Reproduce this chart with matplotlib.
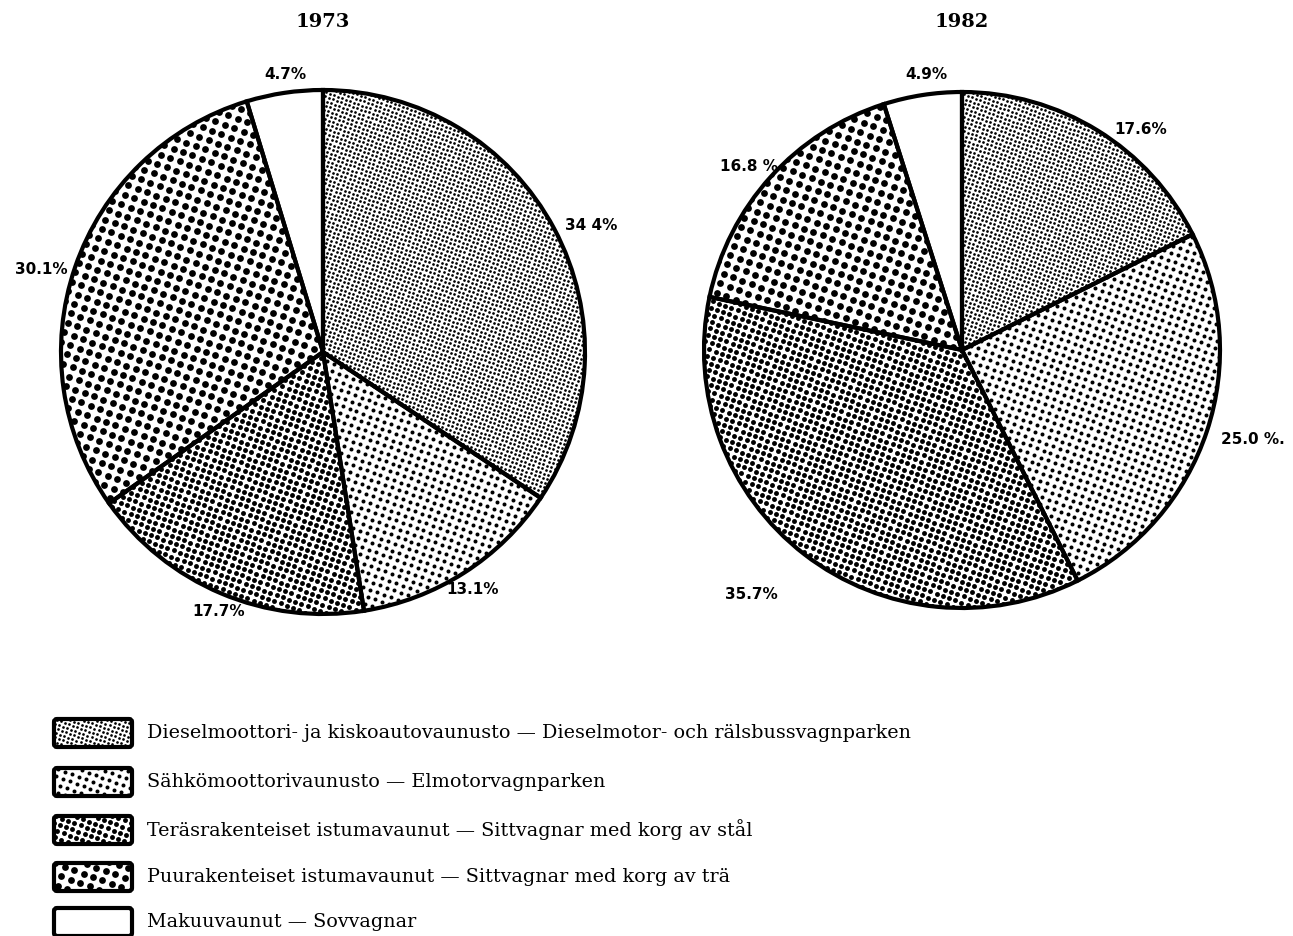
import numpy as np
import matplotlib
matplotlib.use('Agg')
import matplotlib.pyplot as plt
from matplotlib.patches import FancyBboxPatch

# data
categories = [
    'Dieselmoottori- ja kiskoautovaunusto \u2014 Dieselmotor- och rälsbussvagnparken',
    'Sähkömoottorivaunusto \u2014 Elmotorvagnparken',
    'Teräsrakenteiset istumavaunut \u2014 Sittvagnar med korg av stål',
    'Puurakenteiset istumavaunut \u2014 Sittvagnar med korg av trä',
    'Makuuvaunut \u2014 Sovvagnar',
]
years = ['1973', '1982']
shares_1973 = [34.4, 13.1, 17.7, 30.1, 4.7]
shares_1982 = [17.6, 25.0, 35.7, 16.8, 4.9]
labels_1973 = ['34 4%', '13.1%', '17.7%', '30.1%', '4.7%']
labels_1982 = ['17.6%', '25.0 %.', '35.7%', '16.8 %', '4.9%']

# dot screens: (spacing px, dot diameter px), None = plain white
screens = [(4.3, 2.7), (7.4, 4.0), (6.6, 4.9), (10.0, 6.8), None]
W, H = 1293, 936

# label placement (radius factor, angle tweak in deg)
place_1973 = [(1.13, -2.8), (1.07, -0.3), (1.07, 0.9), (1.12, 2.6), (1.07, -0.7)]
place_1982 = [(1.10, -7.3), (1.18, 1.2), (1.25, -3.2), (1.09, 1.3), (1.075, -1.5)]

fig = plt.figure(figsize=(W / 100, H / 100), dpi=100)


def dot_screen(ax, patch, screen, half_w, half_h, scale_x, scale_y, cx=0.0, cy=0.0):
    # rotated dot grid (in pixels) clipped to a patch
    if screen is None:
        return
    step, dia = screen
    rot = np.deg2rad(-20)
    n = int(np.hypot(half_w, half_h) / step) + 2
    i, j = np.meshgrid(np.arange(-n, n + 1), np.arange(-n, n + 1))
    u = i.ravel() * step
    v = j.ravel() * step
    px = u * np.cos(rot) - v * np.sin(rot)
    py = u * np.sin(rot) + v * np.cos(rot)
    keep = (np.abs(px) <= half_w + step) & (np.abs(py) <= half_h + step)
    sc = ax.scatter(cx + px[keep] / scale_x, cy + py[keep] / scale_y,
                    s=(dia * 0.72) ** 2, c='black', linewidths=0, zorder=2)
    sc.set_clip_path(patch)


def draw_pie(cx, cy, r, values, labels, place, title):
    ax = fig.add_axes([(cx - r) / W, (H - cy - r) / H, 2 * r / W, 2 * r / H])
    wedges, _ = ax.pie(values, startangle=90, counterclock=False,
                       colors=['white'] * len(values),
                       wedgeprops=dict(linewidth=0, zorder=1))
    for w, scr in zip(wedges, screens):
        dot_screen(ax, w, scr, r, r, r, r)
    ax.pie(values, startangle=90, counterclock=False,
           wedgeprops=dict(facecolor='none', edgecolor='black', linewidth=3.0, zorder=3))
    ax.set_xlim(-1, 1)
    ax.set_ylim(-1, 1)
    ax.axis('off')
    for w, lab, (dist, tweak) in zip(wedges, labels, place):
        ang = np.deg2rad((w.theta1 + w.theta2) / 2 + tweak)
        ax.text(dist * np.cos(ang), dist * np.sin(ang), lab,
                ha='center', va='center', fontsize=11, fontweight='bold',
                family='DejaVu Sans', clip_on=False)
    fig.text(cx / W, 1 - 22 / H, title, ha='center', va='center',
             fontsize=14, fontweight='bold', family='DejaVu Serif')


draw_pie(323, 352, 262, shares_1973, labels_1973, place_1973, years[0])
draw_pie(962, 350, 258, shares_1982, labels_1982, place_1982, years[1])

# legend
lg = fig.add_axes([0, 0, 1, 1])
lg.set_xlim(0, W)
lg.set_ylim(H, 0)
lg.axis('off')
rows_y = [733, 782, 830, 877, 922]
for y, cat, scr in zip(rows_y, categories, screens):
    box = FancyBboxPatch((54, y - 14), 78, 28, boxstyle='round,pad=0,rounding_size=3',
                         facecolor='white', edgecolor='none', zorder=1)
    lg.add_patch(box)
    dot_screen(lg, box, scr, 40, 15, 1, -1, cx=93, cy=y)
    lg.add_patch(FancyBboxPatch((54, y - 14), 78, 28, boxstyle='round,pad=0,rounding_size=3',
                                facecolor='none', edgecolor='black', linewidth=3.0, zorder=3))
    lg.text(147, y, cat, ha='left', va='center', fontsize=13.8, family='DejaVu Serif')

fig.savefig('out.png', dpi=100)
